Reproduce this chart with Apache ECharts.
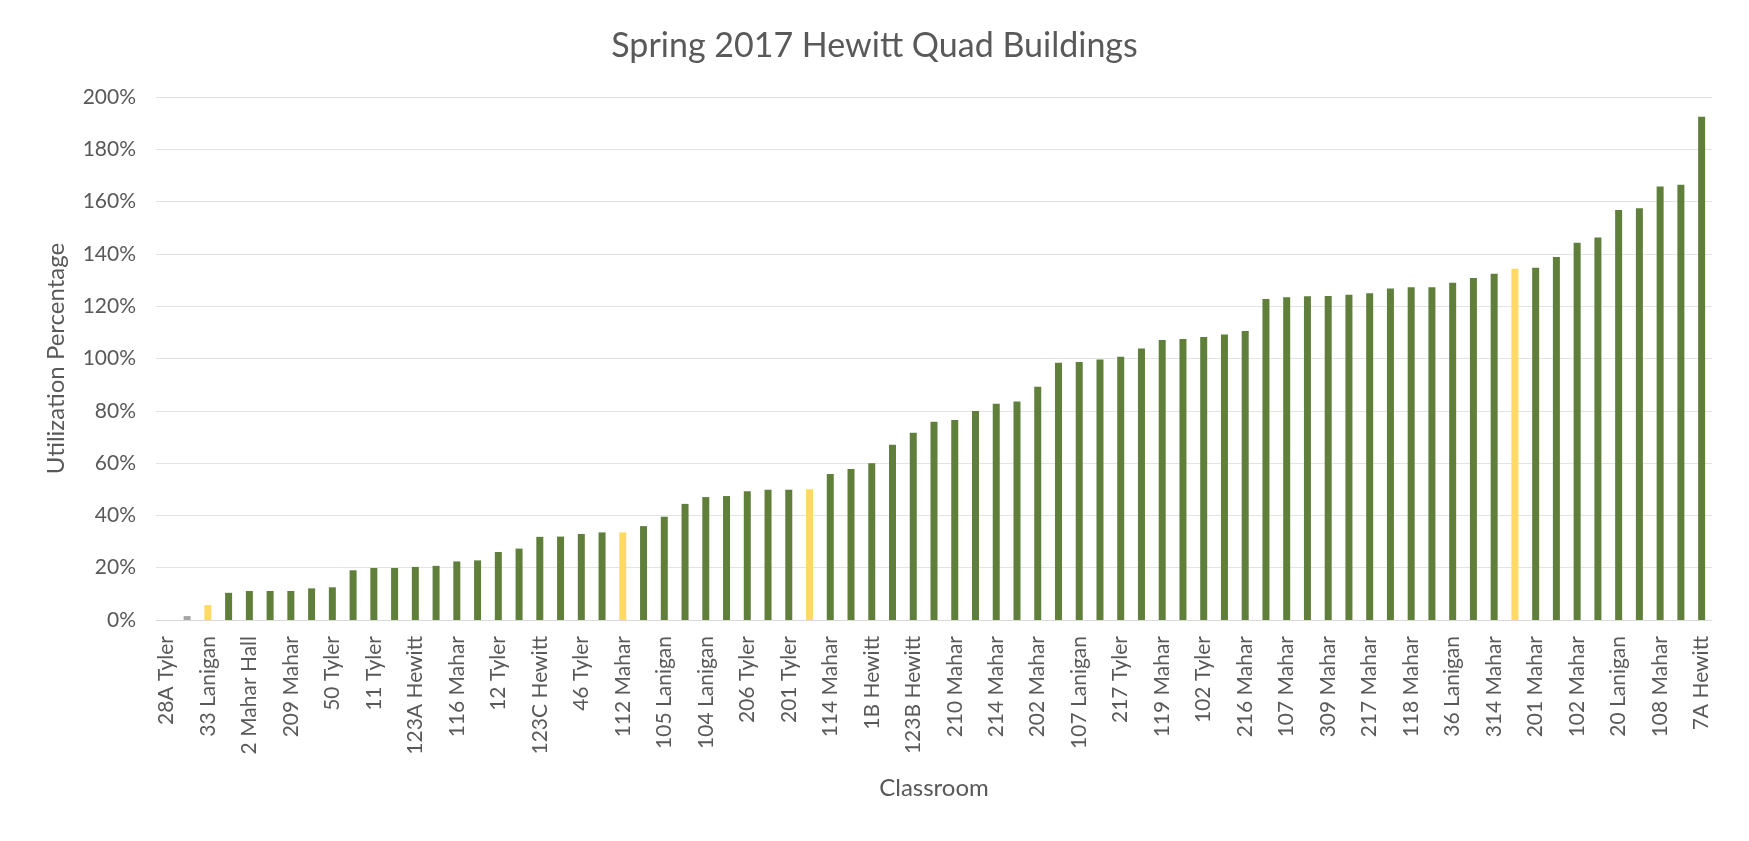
<!DOCTYPE html>
<html>
<head>
<meta charset="utf-8">
<script src="https://cdn.jsdelivr.net/npm/echarts@6/dist/echarts.min.js"></script>
<style>
html,body{margin:0;padding:0;background:#fff;}
#chart{width:1749px;height:841px;}
</style>
</head>
<body>
<div id="chart"></div>
<script>
// Labelled classrooms (every other bar carries a label on the axis)
const labels = [
  '28A Tyler','33 Lanigan','2 Mahar Hall','209 Mahar','50 Tyler','11 Tyler','123A Hewitt','116 Mahar',
  '12 Tyler','123C Hewitt','46 Tyler','112 Mahar','105 Lanigan','104 Lanigan','206 Tyler','201 Tyler',
  '114 Mahar','1B Hewitt','123B Hewitt','210 Mahar','214 Mahar','202 Mahar','107 Lanigan','217 Tyler',
  '119 Mahar','102 Tyler','216 Mahar','107 Mahar','309 Mahar','217 Mahar','118 Mahar','36 Lanigan',
  '314 Mahar','201 Mahar','102 Mahar','20 Lanigan','108 Mahar','7A Hewitt'
];
// Utilization percentage per classroom (sorted ascending)
const utilization = [
  0, 1.5, 5.7, 10.4, 11.1, 11.1, 11.1, 12.1, 12.5, 19.0,
  19.9, 19.9, 20.3, 20.7, 22.4, 22.8, 26.0, 27.3, 31.8, 31.9,
  32.9, 33.5, 33.5, 35.9, 39.5, 44.4, 47.0, 47.4, 49.2, 49.8,
  49.8, 50.0, 55.8, 57.7, 59.9, 67.0, 71.6, 75.8, 76.5, 79.9,
  82.7, 83.6, 89.2, 98.4, 98.7, 99.6, 100.7, 103.8, 107.1, 107.5,
  108.2, 109.2, 110.5, 122.8, 123.4, 123.8, 123.9, 124.4, 125.0, 126.8,
  127.2, 127.2, 129.0, 130.8, 132.4, 134.3, 134.7, 138.8, 144.3, 146.3,
  156.8, 157.5, 165.8, 166.4, 192.4
];
const yTicks = [0, 20, 40, 60, 80, 100, 120, 140, 160, 180, 200];
// highlighted bars
const yellowBars = [2, 22, 31, 65];
const greyBars = [1];

const categories = utilization.map((_, i) => (i % 2 === 0 ? labels[i / 2] : ''));

const GREEN = '#607f3a', YELLOW = '#ffd966', GREY = '#a5a5a5';
const TXT = '#595959';
const FONT = 'Lato';

const chart = echarts.init(document.getElementById('chart'), null, {renderer: 'canvas'});
chart.setOption({
  backgroundColor: '#ffffff',
  animation: false,
  title: {
    text: 'Spring 2017 Hewitt Quad Buildings',
    left: 'center',
    top: 24,
    textStyle: {color: TXT, fontFamily: FONT, fontSize: 34, fontWeight: 'normal'}
  },
  grid: {left: 156, right: 37, top: 97, bottom: 221, containLabel: false},
  xAxis: {
    type: 'category',
    data: categories,
    name: 'Classroom',
    nameLocation: 'middle',
    nameGap: 156,
    nameTextStyle: {color: TXT, fontFamily: FONT, fontSize: 24},
    axisLine: {show: true, lineStyle: {color: '#d9d9d9'}},
    axisTick: {show: false},
    axisLabel: {interval: 0, rotate: 90, margin: 16, color: TXT, fontFamily: FONT, fontSize: 21}
  },
  yAxis: {
    type: 'value',
    min: yTicks[0],
    max: yTicks[yTicks.length - 1],
    interval: yTicks[1] - yTicks[0],
    name: 'Utilization Percentage',
    nameLocation: 'middle',
    nameGap: 88,
    nameTextStyle: {color: TXT, fontFamily: FONT, fontSize: 24},
    axisLine: {show: false},
    axisTick: {show: false},
    splitLine: {lineStyle: {color: '#e3e3e3'}},
    axisLabel: {formatter: '{value}%', margin: 20, color: TXT, fontFamily: FONT, fontSize: 21}
  },
  series: [{
    type: 'bar',
    data: utilization,
    barWidth: 7,
    itemStyle: {
      color: p => yellowBars.includes(p.dataIndex) ? YELLOW : (greyBars.includes(p.dataIndex) ? GREY : GREEN)
    }
  }]
});
</script>
</body>
</html>
